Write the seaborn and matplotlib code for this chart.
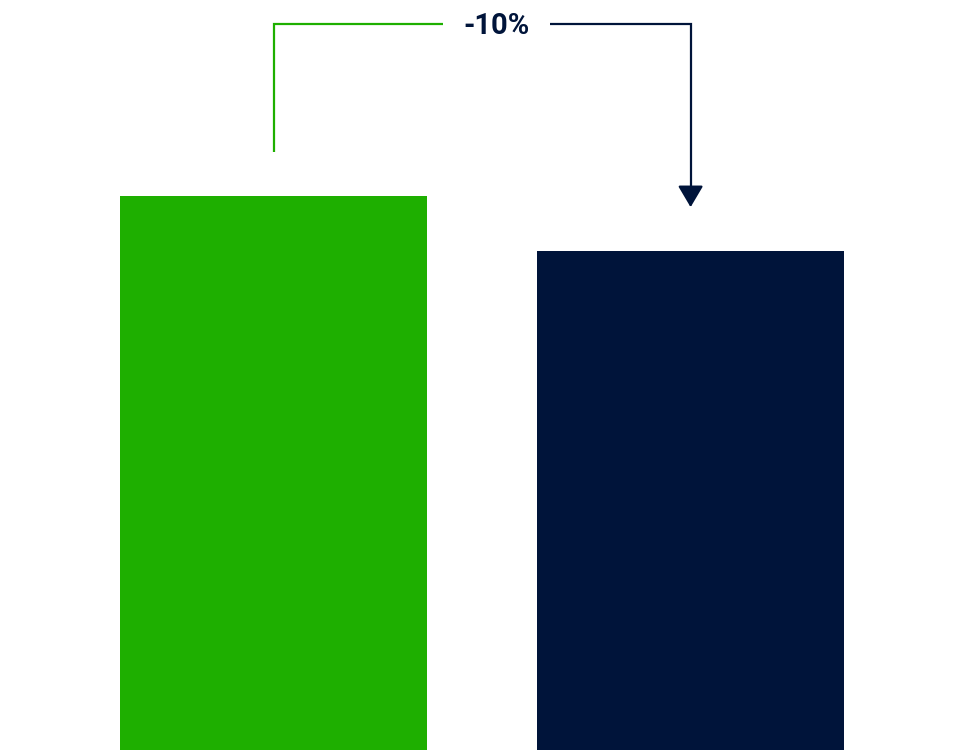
import matplotlib
matplotlib.use("Agg")
import matplotlib.pyplot as plt
import seaborn as sns
import pandas as pd

categories = ["Before", "After"]
values = [100, 90]
colors = ["#1eaf00", "#00143a"]
change_label = "-10%"

df = pd.DataFrame({"cat": categories, "val": values})

sns.set_theme(style="white")
plt.rcParams['font.family'] = ['Roboto', 'DejaVu Sans']

fig = plt.figure(figsize=(9.55, 7.5), dpi=100)
ax = fig.add_axes([0, 0, 1, 1])
sns.barplot(data=df, x="cat", y="val", hue="cat", palette=colors,
            width=0.736, legend=False, ax=ax, saturation=1, linewidth=0)
ax.set_xlim(-0.656, 1.634)
ax.set_ylim(0, 135.4)
ax.axis("off")

top = max(values) + 31
start_y = values[0] + 8
end_y = values[1] + 8
lw = 1.6
# green segment
ax.plot([0, 0, 0.406], [start_y, top, top], color=colors[0], lw=lw,
        solid_capstyle="butt", solid_joinstyle="miter")
# navy segment
ax.plot([0.663, 1, 1], [top, top, end_y + 2.5], color=colors[1], lw=lw,
        solid_capstyle="butt", solid_joinstyle="miter")
ax.annotate("", xy=(1, end_y), xytext=(1, end_y + 3.6),
            arrowprops=dict(arrowstyle="-|>,head_length=1.1,head_width=0.65",
                            color=colors[1], lw=lw, shrinkA=0, shrinkB=0))
ax.text(0.534, top - 0.3, change_label, ha="center", va="center", fontsize=21,
        fontweight="semibold", color=colors[1])

fig.savefig("out.png", dpi=100)
